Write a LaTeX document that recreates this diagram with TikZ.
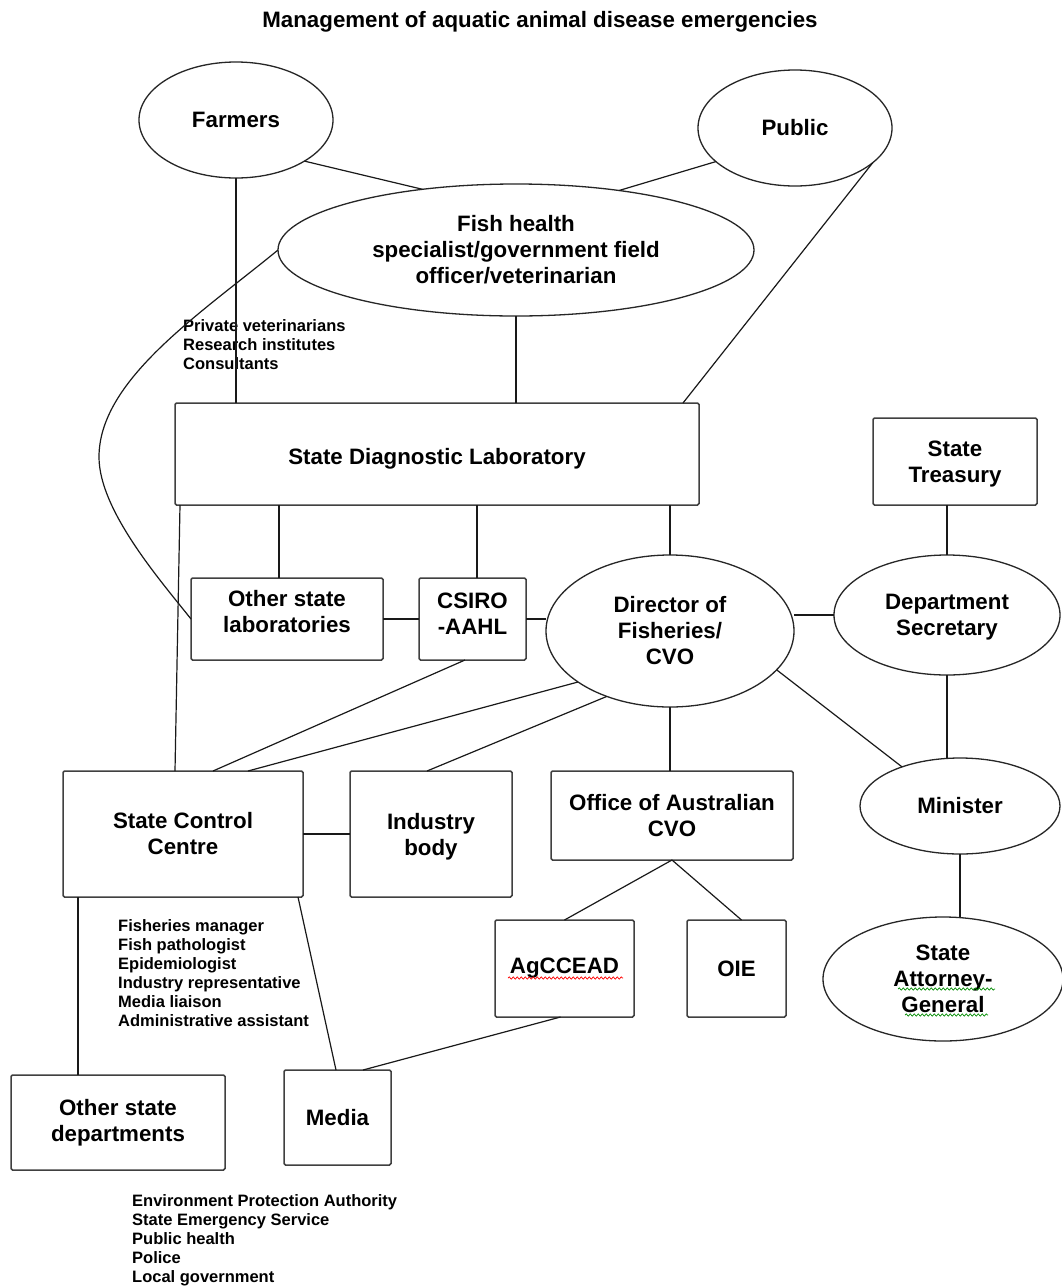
\documentclass[tikz,border=0pt]{standalone}
\usepackage{fontspec}
\setmainfont{Liberation Sans}
\usetikzlibrary{shapes.geometric,calc,decorations.pathmorphing}

\begin{document}
\begin{tikzpicture}[x=1pt,y=-1pt,
  big/.style={font=\fontsize{22.3}{26}\selectfont\bfseries, align=center},
  small/.style={font=\fontsize{16.5}{19}\selectfont\bfseries, align=left, anchor=north west, inner sep=0pt},
  oval/.style={draw=black!85, line width=1.3pt, ellipse, inner sep=0pt, outer sep=0pt, big},
  box/.style={draw=black!75, line width=1.5pt, rectangle, rounded corners=1.5pt, inner sep=0pt, outer sep=0pt, big},
  link/.style={draw=black!90, line width=1.2pt},
  squig/.style={line width=0.7pt, decorate, decoration={snake, amplitude=1.1pt, segment length=4pt}},
]
\fill[white] (0,0) rectangle (1061,1286);
\useasboundingbox (0,0) rectangle (1061,1286);

\node[big] (title) at (540,22) {Management of aquatic animal disease emergencies};

% ovals
\node[oval, minimum width=194pt, minimum height=116pt] (farmers) at (236,120) {Farmers};
\node[oval, minimum width=194pt, minimum height=116pt] (public) at (795,128) {Public};
\node[oval, minimum width=476pt, minimum height=132pt] (fish) at (516,250) {Fish health\\specialist/government field\\officer/veterinarian};
\node[oval, minimum width=248pt, minimum height=152pt] (dir) at (670,631) {Director of\\Fisheries/\\CVO};
\node[oval, minimum width=226pt, minimum height=120pt, text depth=0pt] (dept) at (947,615) {Department\\Secretary};
\node[oval, minimum width=200pt, minimum height=96pt] (minister) at (960,806) {Minister};
\node[oval, minimum width=240pt, minimum height=124pt] (stag) at (943,979) {State\\Attorney-\\General};

% boxes
\node[box, minimum width=524pt, minimum height=102pt, text height=20pt, text depth=0pt] (sdl) at (437,454) {State Diagnostic Laboratory};
\node[box, minimum width=164pt, minimum height=87pt, text depth=0pt] (treas) at (955,461.5) {State\\Treasury};
\node[box, minimum width=192pt, minimum height=82pt, text depth=15pt] (oth) at (287,619) {Other state\\laboratories};
\node[box, minimum width=107pt, minimum height=82pt, text depth=10pt] (csiro) at (472.5,619) {CSIRO\\-AAHL};
\node[box, minimum width=240pt, minimum height=126pt] (scc) at (183,834) {State Control\\Centre};
\node[box, minimum width=162pt, minimum height=126pt, text depth=0pt] (ind) at (431,834) {Industry\\body};
\node[box, minimum width=242pt, minimum height=89pt] (office) at (672,815.5) {Office of Australian\\CVO};
\node[box, minimum width=139pt, minimum height=97pt] (agc) at (564.5,968.5) {AgCCEAD};
\node[box, minimum width=99pt, minimum height=97pt] (oie) at (736.5,968.5) {OIE};
\node[box, minimum width=214pt, minimum height=95pt] (osd) at (118,1122.5) {Other state\\departments};
\node[box, minimum width=107pt, minimum height=95pt] (media) at (337.5,1117.5) {Media};

% lists
\node[small] (privlist) at (183,319) {Private veterinarians\\Research institutes\\Consultants};
\node[small] (scclist) at (118,919) {Fisheries manager\\Fish pathologist\\Epidemiologist\\Industry representative\\Media liaison\\Administrative assistant};
\node[small] (osdlist) at (132,1194) {Environment Protection Authority\\State Emergency Service\\Public health\\Police\\Local government};

% connectors
\coordinate (bend) at (99,457);
\draw[link] (farmers.-31.4) -- (fish.147);
\draw[link] (public.203) -- (fish.30.7);
\draw[link] (farmers.south) -- (farmers.south |- sdl.north);
\draw[link] (public.-24.6) -- ([xshift=-16pt]sdl.north east);
\draw[link] (fish.south) -- (fish.south |- sdl.north);
\draw[link] (fish.west) .. controls (200,314) and (99,380) .. (bend) .. controls (99,510) and (160,580) .. (oth.west);
\draw[link] ([xshift=5pt]sdl.south west) -- ([xshift=112pt]scc.north west);
\draw[link] ([xshift=104pt]sdl.south west) -- ([xshift=88pt]oth.north west);
\draw[link] ([xshift=302pt]sdl.south west) -- ([xshift=58pt]csiro.north west);
\draw[link] (dir.north) -- (dir.north |- sdl.south);
\draw[link] (oth.east) -- (csiro.west);
\draw[link] (csiro.east) -- (csiro.east -| dir.west);
\draw[link] (dept.west) -- (dept.west -| dir.east);
\draw[link] (dept.north) -- (dept.north |- treas.south);
\draw[link] (dept.south) -- (dept.south |- minister.north);
\draw[link] (dir.-20.4) -- (minister.146.5);
\draw[link] (minister.south) -- (minister.south |- stag.north);
\draw[link] (dir.south) -- (dir.south |- office.north);
\draw[link] (dir.-134) -- ([xshift=77pt]ind.north west);
\draw[link] (dir.-151.8) -- ([xshift=185pt]scc.north west);
\draw[link] ([xshift=46pt]csiro.south west) -- ([xshift=150pt]scc.north west);
\draw[link] (scc.east) -- (ind.west);
\draw[link] (office.south) -- (agc.north);
\draw[link] (office.south) -- ([xshift=5pt]oie.north);
\draw[link] ([xshift=15pt]scc.south west) -- ([xshift=67pt]osd.north west);
\draw[link] ([xshift=-5pt]scc.south east) -- ([xshift=52pt]media.north west);
\draw[link] ([xshift=-4pt]agc.south) -- ([xshift=79pt]media.north west);

% spell-check marks
\draw[squig, red] (508,978) -- (623,978);
\draw[squig, green!55!black] (898,989) -- (995,989);
\draw[squig, green!55!black] (905,1015) -- (988,1015);
\end{tikzpicture}
\end{document}
